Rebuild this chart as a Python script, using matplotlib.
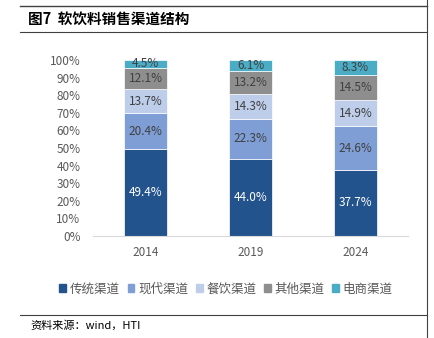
import matplotlib
matplotlib.use("Agg")
import matplotlib.pyplot as plt
from matplotlib.lines import Line2D

plt.rcParams['font.family'] = ['Noto Sans CJK SC', 'DejaVu Sans']

years = ["2014", "2019", "2024"]
channels = ["传统渠道", "现代渠道", "餐饮渠道", "其他渠道", "电商渠道"]
traditional = [49.4, 44.0, 37.7]
modern = [20.4, 22.3, 24.6]
catering = [13.7, 14.3, 14.9]
other = [12.1, 13.2, 14.5]
ecommerce = [4.5, 6.1, 8.3]
yticks = [0, 10, 20, 30, 40, 50, 60, 70, 80, 90, 100]

series = [traditional, modern, catering, other, ecommerce]
colors = ["#23538C", "#7E9ED5", "#BDCDEA", "#8E8E8E", "#4BACC6"]
text_colors = ["white", "#404040", "#404040", "#404040", "#404040"]

fig = plt.figure(figsize=(4.34, 3.38), dpi=100)
ax = fig.add_axes([93 / 434, 1 - 236 / 338, 315 / 434, 176 / 338])

x = list(range(len(years)))
bottoms = [0.0] * len(years)
for vals, col, tc, name in zip(series, colors, text_colors, channels):
    ax.bar(x, vals, width=0.41, bottom=bottoms, color=col, label=name,
           edgecolor="white", linewidth=0.5)
    for xi, v, b in zip(x, vals, bottoms):
        ax.text(xi, b + v / 2, f"{v:.1f}%", ha="center", va="center",
                color=tc, fontsize=8.5)
    bottoms = [b + v for b, v in zip(bottoms, vals)]

ax.set_xlim(-0.5, 2.5)
ax.set_ylim(0, 100)
ax.set_yticks(yticks)
ax.set_yticklabels([f"{t}%" for t in yticks])
ax.set_xticks(x)
ax.set_xticklabels(years)
ax.tick_params(axis="both", length=0, labelsize=8.5, colors="#595959")
ax.tick_params(axis="x", pad=7)
ax.tick_params(axis="y", pad=9)
for side in ["left", "right", "top"]:
    ax.spines[side].set_visible(False)
ax.spines["bottom"].set_color("#D9D9D9")
ax.spines["bottom"].set_linewidth(0.8)

handles = [plt.Rectangle((0, 0), 1, 1, color=c) for c in colors]
fig.legend(handles, channels, loc="center", bbox_to_anchor=(226 / 434, 1 - 289 / 338),
           ncol=5, frameon=False, fontsize=9, handlelength=0.55, handleheight=0.55,
           handletextpad=0.3, columnspacing=0.6, labelcolor="#595959")

# frame lines around the figure caption and source note
fig.add_artist(Line2D([20 / 434, 427 / 434], [1 - 6 / 338, 1 - 6 / 338],
                      color="#404040", linewidth=1.0))
fig.add_artist(Line2D([20 / 434, 427 / 434], [1 - 32 / 338, 1 - 32 / 338],
                      color="#404040", linewidth=0.8))
fig.add_artist(Line2D([20 / 434, 427 / 434], [1 - 315 / 338, 1 - 315 / 338],
                      color="#404040", linewidth=0.8))
fig.add_artist(Line2D([427 / 434, 427 / 434], [1 - 338 / 338, 1 - 0 / 338],
                      color="#404040", linewidth=0.8))

fig.text(28 / 434, 1 - 19 / 338, "图7  软饮料销售渠道结构", fontsize=10.5,
         fontweight="bold", va="center", ha="left", color="black")
fig.text(30 / 434, 1 - 325 / 338, "资料来源：wind，HTI", fontsize=8,
         va="center", ha="left", color="black")

fig.savefig("out.png", dpi=100)
